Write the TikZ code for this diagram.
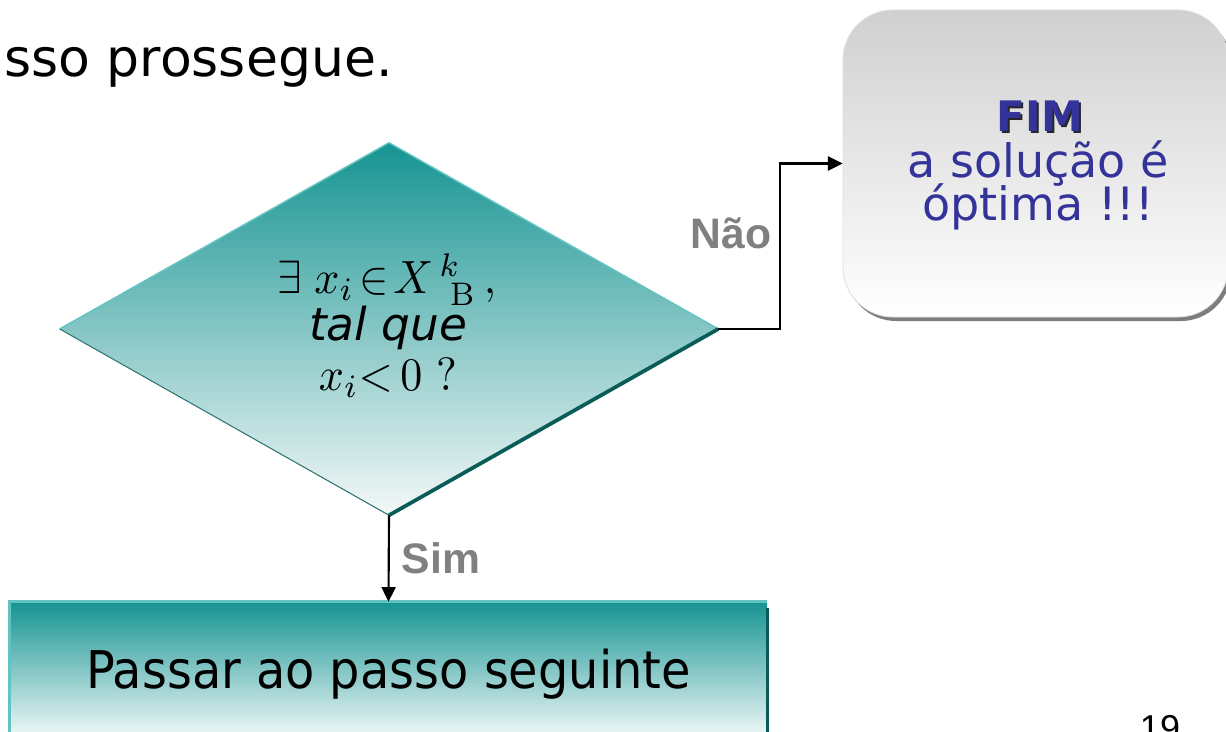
\documentclass[tikz,border=0pt]{standalone}
\usepackage[no-math]{fontspec}
\usepackage{graphicx}
\setmainfont{DejaVu Sans}
\newfontfamily\arialf{Liberation Sans}
\usetikzlibrary{arrows.meta,shapes.geometric}
\definecolor{tealA}{RGB}{22,148,146}
\definecolor{tealL}{RGB}{98,196,194}
\definecolor{tealD}{RGB}{10,92,88}
\definecolor{paleT}{RGB}{244,248,248}
\definecolor{fimblue}{RGB}{51,51,153}
\definecolor{lblgray}{RGB}{128,128,128}
\definecolor{fimtop}{RGB}{208,208,208}
\definecolor{shadowgray}{RGB}{125,125,125}
\tikzset{
  arr/.style={line width=1.6pt, -{Triangle[length=11pt,width=10.5pt]}},
  lbl/.style={anchor=base, text=lblgray, font=\arialf\bfseries\fontsize{32}{36}\selectfont},
  fimtxt/.style={anchor=base, text=fimblue, font=\fontsize{34.5}{40}\selectfont},
  mathtxt/.style={anchor=base, font=\fontsize{10}{12}\selectfont},
}
\begin{document}
\begin{tikzpicture}[x=0.75pt,y=-0.75pt]
\useasboundingbox (0,0) rectangle (1226,731);
\fill[white] (0,0) rectangle (1226,731);

% title fragment
\node[anchor=base west, inner sep=0, font=\fontsize{39}{44}\selectfont] (title) at (4,77) {sso prossegue.};

% decision diamond
\node[diamond, aspect=1, inner sep=0, minimum width=493.5pt, minimum height=279pt,
      top color=tealA, bottom color=paleT] (dec) at (389,329) {};
\draw[tealL, line width=1.1pt] (dec.west) -- (dec.north) -- (dec.east);
\draw[tealD!85, line width=0.8pt] (dec.west) -- (dec.south);
\draw[tealD, line width=2.8pt] (dec.south) -- (dec.east);

\node[mathtxt] (l1) at (387,293)
  {\scalebox{3.3}[3.5]{$\exists\; x_i \!\in\! X^{\,k}_{\;\;\mathrm{B}}\,,$}};
\node[anchor=base, font=\itshape\fontsize{34}{40}\selectfont] (l2) at (388,340) {tal que};
\node[mathtxt] (l3) at (388,390) {\scalebox{3.3}[3.5]{$x_i{<}\,0\ ?$}};

% FIM box
\fill[shadowgray, rounded corners=37.5pt] (846,14) rectangle (1231,321);
\node[rectangle, rounded corners=37.5pt, minimum width=288.75pt, minimum height=230.25pt,
      inner sep=0, top color=fimtop, bottom color=white, draw=gray!25, line width=0.6pt]
      (fim) at (1035.5,163.5) {};
\node[anchor=base, text=black!85, font=\bfseries\fontsize{31.5}{36}\selectfont] (fimsh) at (1042,134) {FIM};
\node[anchor=base, text=fimblue, font=\bfseries\fontsize{31.5}{36}\selectfont] (fimt) at (1040,132) {FIM};
\node[fimtxt] (sol) at (1038,177) {a solução é};
\node[fimtxt] (opt) at (1038,220) {óptima !!!};

% next step box
\node[rectangle, minimum width=567.75pt, minimum height=108pt, inner sep=0,
      top color=tealA, bottom color=white, font=\fontsize{39}{44}\selectfont]
      (pass) at (388.5,674) {\scalebox{0.92}[1]{Passar ao passo seguinte}};
\draw[tealL, line width=2.3pt] (pass.south west) -- (pass.north west) -- (pass.north east);
\draw[tealD, line width=2.3pt] ([yshift=-5pt]pass.north east) -- (pass.south east);

% connectors
\draw[arr] (dec.east) -- ++(62,0) |- (fim.west);
\draw[arr] (dec.south) -- (pass.north);

\node[lbl] (nao) at (731,248) {Não};
\node[lbl] (sim) at (441,573) {Sim};

% page number (cut by page edge)
\node[anchor=base, font=\arialf\fontsize{27}{30}\selectfont] (pg) at (1160,740) {19};
\end{tikzpicture}
\end{document}
